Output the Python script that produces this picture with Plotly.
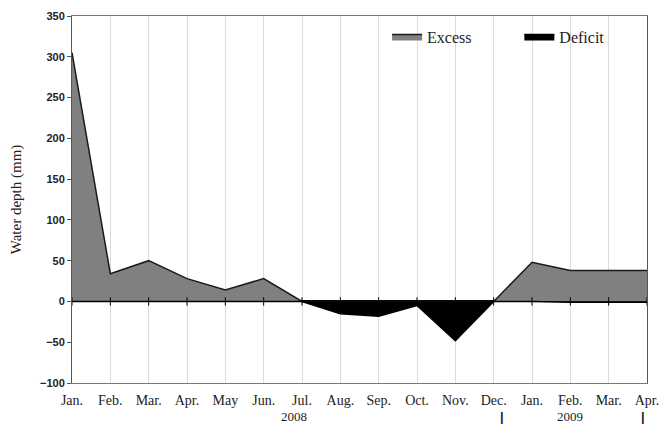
import plotly.graph_objects as go

# Monthly water balance, Jan 2008 - Apr 2009
months = ["Jan.", "Feb.", "Mar.", "Apr.", "May", "Jun.", "Jul.", "Aug.",
          "Sep.", "Oct.", "Nov.", "Dec.", "Jan.", "Feb.", "Mar.", "Apr."]
excess = [305, 34, 50, 28, 14, 28, 0, 0, 0, 0, 0, 0, 48, 38, 38, 38]
deficit = [0, 0, 0, 0, 0, 0, 0, -15, -18, -5, -48, 0, 0, -1, -1, -1]
years = ["2008", "2009"]
y_ticks = [-100, -50, 0, 50, 100, 150, 200, 250, 300, 350]

x = list(range(len(months)))
serif = "Liberation Serif, Times New Roman, serif"
sans = "Liberation Sans, Arial, sans-serif"

fig = go.Figure()
fig.add_trace(go.Scatter(
    x=x, y=excess, name="Excess", mode="lines", fill="tozeroy",
    fillcolor="#808080", line=dict(color="#1a1a1a", width=1.5),
    legend="legend",
))
fig.add_trace(go.Scatter(
    x=x, y=deficit, name="Deficit", mode="lines", fill="tozeroy",
    fillcolor="#000000", line=dict(color="#000000", width=1.5),
    legend="legend2",
))
# small tick marks crossing the zero line at each month
fig.add_trace(go.Scatter(
    x=x, y=[0] * len(x), mode="markers", showlegend=False, hoverinfo="skip",
    marker=dict(symbol="line-ns-open", size=6, color="#000",
                line=dict(color="#000", width=1)),
))

# year labels and period separators beneath the month axis
fig.add_annotation(x=5.8, y=-0.09, xref="x", yref="paper", yanchor="middle",
                   text=years[0], showarrow=False, borderpad=0,
                   font=dict(family=serif, size=13, color="#222"))
fig.add_annotation(x=13.0, y=-0.09, xref="x", yref="paper", yanchor="middle",
                   text=years[1], showarrow=False, borderpad=0,
                   font=dict(family=serif, size=13, color="#222"))
for xs in [-0.07, 11.22, 14.9]:
    fig.add_annotation(x=xs, y=-0.09, xref="x", yref="paper", yanchor="middle",
                       text="|", showarrow=False, borderpad=0,
                       font=dict(family=sans, size=13, color="#222", weight="bold"))

legend_style = dict(
    y=0.99, xanchor="left", yanchor="top",
    font=dict(family=serif, size=16, color="#222"),
    bgcolor="rgba(0,0,0,0)",
)

fig.update_layout(
    width=659, height=425,
    margin=dict(l=72, r=12, t=16, b=42),
    plot_bgcolor="white", paper_bgcolor="white",
    showlegend=True,
    legend=dict(x=0.548, **legend_style),
    legend2=dict(x=0.778, **legend_style),
    xaxis=dict(
        range=[0, 15], tickmode="array", tickvals=x, ticktext=months,
        showgrid=True, gridcolor="#dcdcdc", gridwidth=1,
        showline=True, linecolor="#777", linewidth=1, mirror=True,
        ticks="", zeroline=False, automargin=False, ticklabelstandoff=4,
        ticklabeloverflow="allow",
        tickfont=dict(family=serif, size=14, color="#222"),
    ),
    yaxis=dict(
        range=[-100, 350], tickmode="array", tickvals=y_ticks,
        showgrid=False, zeroline=True, zerolinecolor="#000", zerolinewidth=1.5,
        showline=True, linecolor="#555", linewidth=1, mirror=True,
        ticks="outside", ticklen=4, tickcolor="#555", automargin=False,
        tickfont=dict(family=sans, size=11, color="#222", weight="bold"),
        title=dict(text="Water depth (mm)", standoff=14,
                   font=dict(family=serif, size=15, color="#222")),
    ),
)

fig.write_html("out.html")
